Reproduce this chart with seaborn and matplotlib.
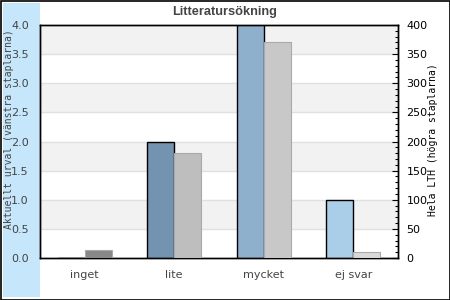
import numpy as np
import pandas as pd
import matplotlib
matplotlib.use("Agg")
import matplotlib.pyplot as plt
import seaborn as sns
from matplotlib.patches import Rectangle
from matplotlib.ticker import MultipleLocator

# ---- data ----
kategorier = ["inget", "lite", "mycket", "ej svar"]
aktuellt_urval = [0.0, 2.0, 4.0, 1.0]        # left axis
hela_lth = [14, 180, 370, 10]                 # right axis
farger_vanster = ["#5f7f9c", "#7393b0", "#8fb0cc", "#aacde8"]
farger_hoger = ["#888888", "#bebebe", "#c8c8c8", "#d9d9d9"]
titel = "Litteratursökning"
ylabel_vanster = "Aktuellt urval (vänstra staplarna)"
ylabel_hoger = "Hela LTH (högra staplarna)"

sns.set_theme(style="white")
plt.rcParams["font.family"] = ["DejaVu Sans"]

fig = plt.figure(figsize=(4.5, 3.0), dpi=100)
fig.patch.set_facecolor("white")

# blue band on the left and outer frame
fig.patches.append(Rectangle((3 / 450, 3 / 300), 37 / 450, 294 / 300,
                             transform=fig.transFigure, facecolor="#c6e6fc",
                             edgecolor="none", zorder=0))
fig.patches.append(Rectangle((0.5 / 450, 0.5 / 300), 449 / 450, 299 / 300,
                             transform=fig.transFigure, facecolor="none",
                             edgecolor="black", linewidth=1.2, zorder=10))

L, R, T, B = 40, 398, 25, 258
ax = fig.add_axes([L / 450, 1 - B / 300, (R - L) / 450, (B - T) / 300])
ax.set_facecolor("white")
ax2 = ax.twinx()

pos = np.arange(len(kategorier))
df = pd.DataFrame({"kat": kategorier, "pos": pos,
                   "vanster": aktuellt_urval, "hoger": hela_lth})

w = 0.30
sns.barplot(data=df, x=df["pos"] - w / 2, y="vanster", hue="kat",
            palette=dict(zip(kategorier, farger_vanster)), native_scale=True,
            dodge=False, width=w, saturation=1, edgecolor="black",
            linewidth=1.0, legend=False, ax=ax, zorder=3)
sns.barplot(data=df, x=df["pos"] + w / 2, y="hoger", hue="kat",
            palette=dict(zip(kategorier, farger_hoger)), native_scale=True,
            dodge=False, width=w, saturation=1, edgecolor="#aaaaaa",
            linewidth=0.8, legend=False, ax=ax2, zorder=3)

# left axis
ax.set_xlim(-0.5, len(kategorier) - 0.5)
ax.set_ylim(0, 4.0)
yt = np.arange(0, 4.01, 0.5)
ax.set_yticks(yt)
ax.set_yticklabels([f"{v:.1f}" for v in yt])
for lo, hi in zip(yt[:-1], yt[1:]):
    i = int(round(lo / 0.5))
    if i % 2 == 1:
        ax.axhspan(lo, hi, facecolor="#f2f2f2", edgecolor="none", zorder=0)
for v in yt[1:-1]:
    ax.axhline(v, color="#e0e0e0", linewidth=1.0, zorder=1)
ax.set_xticks(pos)
ax.set_xticklabels(kategorier)
ax.tick_params(axis="x", length=0, pad=9, labelsize=8, labelcolor="#444444")
ax.tick_params(axis="y", length=0, pad=8, labelsize=8, labelcolor="#444444")
ax.set_xlabel("")
ax.set_ylabel("")

# right axis
ax2.set_ylim(0, 400)
ax2.yaxis.set_major_locator(MultipleLocator(50))
ax2.yaxis.set_minor_locator(MultipleLocator(10))
ax2.tick_params(axis="y", which="major", direction="in", length=4, width=0.8,
                color="black", pad=6, labelsize=8, labelcolor="black")
ax2.tick_params(axis="y", which="minor", direction="in", length=2.5,
                width=0.8, color="black")
ax2.set_ylabel("")
ax2.set_xlabel("")

for a in (ax, ax2):
    for s in a.spines.values():
        s.set_visible(True)
        s.set_color("black")
        s.set_linewidth(1.0)
ax.set_zorder(1)
ax2.set_zorder(2)
ax2.patch.set_visible(False)

fig.text(9.5 / 450, 1 - 129.5 / 300, ylabel_vanster, rotation=90,
         ha="center", va="center", family="DejaVu Sans Mono", fontsize=7,
         color="#444444")
fig.text(433 / 450, 1 - 139.5 / 300, ylabel_hoger, rotation=90,
         ha="center", va="center", family="DejaVu Sans Mono", fontsize=7,
         color="black")
fig.text(225 / 450, 1 - 12 / 300, titel, ha="center", va="center",
         family="Liberation Sans", fontweight="bold", fontsize=9.2,
         color="#444444")

fig.savefig("out.png", dpi=100)
